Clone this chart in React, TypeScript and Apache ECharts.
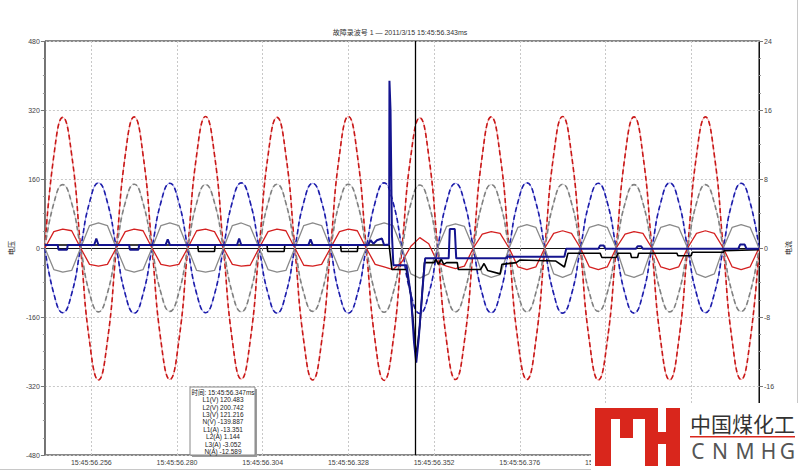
import React, { useEffect, useRef } from "react";
import * as echarts from "echarts";

// sample times (ms after 15:45:56)
const TIME_MS = [
  243, 245.5, 248, 250.5, 253, 255.5, 258, 260.5,
  263, 265.5, 268, 270.5, 273, 275.5, 278, 280.5,
  283, 285.5, 288, 290.5, 293, 295.5, 298, 300.5,
  303, 305.5, 308, 310.5, 313, 315.5, 318, 320.5,
  323, 325.5, 328, 330.5, 333, 335.5, 338, 340.5,
  343, 345.5, 348, 350.5, 353, 355.5, 358, 360.5,
  363, 365.5, 368, 370.5, 373, 375.5, 378, 380.5,
  383, 385.5, 388, 390.5, 393, 395.5, 398, 400.5,
  403, 405.5, 408, 410.5, 413, 415.5, 418, 420.5,
  423, 425.5, 428, 430.5, 433, 435.5, 438, 440.5,
  443,
];

// voltages (left axis, V)
const U_RED = [
  0, 214, 303, 216, 0, -217, -306, -216,
  0, 215, 304, 215, 0, -216, -305, -216,
  0, 216, 305, 216, 0, -215, -304, -215,
  0, 215, 303, 215, 0, -216, -306, -217,
  0, 216, 305, 216, 0, -217, -307, -217,
  0, 214, 302, 214, 0, -216, -305, -216,
  0, 215, 304, 215, 0, -216, -305, -215,
  0, 216, 305, 216, 0, -216, -306, -216,
  0, 215, 304, 215, 0, -217, -306, -216,
  0, 215, 304, 215, 0, -216, -305, -216,
  0,
];
const U_GRAY = [
  0, 104, 147, 104, 0, -105, -148, -105,
  0, 105, 148, 104, 0, -104, -147, -104,
  0, 104, 147, 105, 0, -105, -148, -104,
  0, 104, 148, 104, 0, -104, -147, -105,
  0, 105, 148, 105, 0, -105, -149, -105,
  0, 103, 146, 103, 0, -104, -148, -104,
  0, 104, 147, 104, 0, -105, -148, -104,
  0, 105, 148, 104, 0, -104, -147, -104,
  0, 104, 147, 104, 0, -105, -148, -105,
  0, 104, 147, 104, 0, -104, -147, -104,
  0,
];
const U_BLUE = [
  0, -106, -150, -106, 0, 106, 151, 106,
  0, -107, -151, -106, 0, 106, 150, 106,
  0, -106, -150, -107, 0, 107, 151, 106,
  0, -106, -151, -106, 0, 106, 150, 107,
  0, -107, -151, -107, 0, 106, 151, 106,
  0, -107, -152, -107, 0, 106, 150, 106,
  0, -106, -150, -106, 0, 107, 151, 106,
  0, -106, -151, -107, 0, 106, 150, 106,
  0, -107, -151, -106, 0, 106, 151, 107,
  0, -106, -150, -106, 0, 106, 150, 106,
  0,
];

// currents (right axis, A)
const I_RED = [
  0, 1.9, 2.2, 2.0, 0, -1.9, -2.1, -1.9,
  0, 1.9, 2.2, 2.0, 0, -1.9, -2.1, -1.9,
  0, 2.0, 2.2, 1.9, 0, -1.9, -2.1, -2.0,
  0, 1.9, 2.2, 2.0, 0, -2.0, -2.1, -1.9,
  0, 1.9, 2.2, 2.0, 0, -1.9, -2.2, -2.5,
  -1.6, 0.2, 1.2, 0.5, -1.7, -2.1, -2.4, -2.1,
  0, 1.6, 1.9, 1.7, 0, -2.2, -2.5, -2.2,
  0, 1.7, 2.0, 1.7, 0, -2.2, -2.5, -2.2,
  0, 1.6, 1.9, 1.7, 0, -2.2, -2.5, -2.2,
  0, 1.7, 2.0, 1.7, 0, -2.2, -2.5, -2.2,
  0,
];
const I_GRAY = [
  0, -2.5, -2.8, -2.6, 0, 2.6, 2.9, 2.6,
  0, -2.5, -2.8, -2.5, 0, 2.6, 2.9, 2.6,
  0, -2.6, -2.8, -2.6, 0, 2.6, 2.9, 2.5,
  0, -2.5, -2.8, -2.6, 0, 2.6, 2.9, 2.6,
  0, -2.5, -2.8, -2.6, 0, 2.6, 2.9, 2.6,
  0, -3.0, -3.5, -3.0, 0, 2.5, 2.8, 2.5,
  0, -3.0, -3.4, -3.1, 0, 2.4, 2.7, 2.4,
  0, -3.0, -3.4, -3.0, 0, 2.4, 2.7, 2.4,
  0, -3.1, -3.4, -3.0, 0, 2.4, 2.7, 2.4,
  0, -3.0, -3.4, -3.0, 0, 2.4, 2.7, 2.4,
  0,
];
const I_BLACK: [number, number][] = [
  [243, 0.35], [285.8, 0.35], [286, -0.4], [290.5, -0.4], [290.7, 0.35],
  [305.2, 0.35], [305.4, -0.4], [310, -0.4], [310.2, 0.35],
  [325.8, 0.35], [326, -0.4], [330.5, -0.4], [330.7, 0.35],
  [339.4, 0.35], [340.2, -2.5], [344.3, -2.5], [345.5, -5.5], [347, -12.6],
  [348, -9], [349.3, -1.7], [352, -1.7], [352.5, -1.3], [353.2, -1.9], [354, -1.3],
  [354.7, -1.9], [355.5, -1.7], [358.5, -1.7], [358.8, -2.5], [365, -2.5],
  [366, -1.8], [367, -2.6], [370.5, -3.0], [371, -1.9], [375, -1.7], [376, -1.4],
  [386, -1.5], [388.5, -2.2], [389.5, -0.6], [398.5, -0.6], [399, -1.1], [403, -1.1],
  [403.5, -0.6], [407, -0.6], [407.3, -1.1], [409, -1.1], [409.3, -0.6], [420, -0.6],
  [420.3, -0.9], [424, -0.9], [424.3, -0.5], [433, -0.5], [433.3, -0.3], [443, -0.2],
];
const I_BLUE: [number, number][] = [
  [243, 0.35], [246.6, 0.35], [246.8, -0.2], [249.2, -0.2], [249.4, 0.35],
  [256.8, 0.35], [257.4, 1.1], [258, 0.35],
  [266.6, 0.35], [266.8, -0.2], [269.2, -0.2], [269.4, 0.35],
  [276.8, 0.35], [277.4, 1.0], [278, 0.35],
  [296.8, 0.35], [297.4, 1.1], [298, 0.35],
  [316.8, 0.35], [317.4, 1.0], [318, 0.35],
  [333.5, 0.35], [334.2, 0.9], [335, 0.5], [336, 0.9], [337.4, 1.1], [338, 0.35],
  [339.4, 0.4], [339.5, 19.4], [339.8, 16], [340.2, 1.5], [340.6, -2.0], [344.3, -2.0],
  [345.5, -5.5], [346.4, -11], [347, -13.3], [347.7, -10.5], [348.8, -4.5], [349.5, -1.2],
  [356.1, -1.2], [356.4, 2.2], [357.8, 2.2], [358.2, -1.2], [372, -1.2], [372.5, -1.0],
  [388.5, -1.0], [389, -0.1], [398, -0.1], [398.5, 0.3], [399.5, 0.3], [400, -0.1],
  [408.5, -0.1], [409, 0.2], [410, 0.2], [410.5, -0.1], [437.2, -0.1], [437.7, 0.4],
  [439, 0.4], [439.5, -0.1], [443, -0.1],
];

const X_TICKS = [256, 280, 304, 328, 352, 376, 400, 424];
const X_LABELS = [256, 280, 304, 328, 352, 376, 400];
const CURSOR_MS = 346.75;
const TITLE = "故障录波号 1 — 2011/3/15 15:45:56.343ms";
const TIP_LINES = [
  "时间: 15:45:56.347ms",
  "L1(V) 120.483",
  "L2(V) 200.742",
  "L3(V) 121.216",
  "N(V) -139.887",
  "L1(A) -13.351",
  "L2(A) 1.144",
  "L3(A) -3.052",
  "N(A) -12.589",
];

const FONT = "'Liberation Sans', 'Noto Sans CJK SC', sans-serif";

function dashedWave(values: number[], base: string, dash: string, name: string) {
  const data = TIME_MS.map((t, i) => [t, values[i]]);
  return [
    {
      name: name + "-base",
      type: "line",
      yAxisIndex: 0,
      data,
      smooth: 0.5,
      symbol: "none",
      silent: true,
      lineStyle: { color: base, width: 1 },
    },
    {
      name,
      type: "line",
      yAxisIndex: 0,
      data,
      smooth: 0.5,
      symbol: "none",
      silent: true,
      lineStyle: { color: dash, width: 1.6, type: [5, 3] },
    },
  ];
}

export default function App() {
  const ref = useRef<HTMLDivElement>(null);
  useEffect(() => {
    if (!ref.current) return;
    const chart = echarts.init(ref.current, null, { renderer: "svg" });

    const tipTexts = TIP_LINES.map((s, i) => ({
      type: "text",
      z: 102,
      x: 223,
      y: 389 + i * 7.4,
      style: {
        text: s,
        fill: "#222",
        font: `6.5px ${FONT}`,
        textAlign: "center",
        textVerticalAlign: "top",
      },
    }));

    const red = "#d9261c";
    const logoRects = [
      [595, 408, 16, 58],
      [595, 408, 63, 11],
      [620, 408, 13, 30],
      [645, 408, 13, 58],
      [658, 432, 8, 12],
      [666, 408, 14, 58],
    ].map(([x, y, w, h]) => ({
      type: "rect",
      z: 111,
      shape: { x, y, width: w, height: h },
      style: { fill: red },
    }));
    const letters = ["C", "N", "M", "H", "G"];
    const letterX = [698, 720, 745, 768.5, 787.5];
    const letterTexts = letters.map((c, i) => ({
      type: "text",
      z: 111,
      x: letterX[i],
      y: 451,
      style: {
        text: c,
        fill: "#555",
        font: `21px 'Noto Sans', sans-serif`,
        textAlign: "center",
        textVerticalAlign: "middle",
      },
    }));

    chart.setOption({
      animation: false,
      backgroundColor: "#fff",
      title: {
        text: TITLE,
        left: "center",
        top: 29,
        padding: 0,
        textStyle: { fontSize: 7, fontWeight: "normal", color: "#333", fontFamily: FONT },
      },
      grid: {
        left: 41,
        right: 40,
        top: 41,
        bottom: 16,
        show: true,
        borderColor: "#111",
        borderWidth: 1,
        backgroundColor: "#fff",
      },
      xAxis: {
        type: "value",
        min: 243,
        max: 443,
        axisLine: { show: true, lineStyle: { color: "#111" } },
        axisTick: { show: true, customValues: X_TICKS, length: 3, lineStyle: { color: "#777" } },
        axisLabel: {
          customValues: X_LABELS,
          fontSize: 7,
          color: "#444",
          fontFamily: FONT,
          margin: 4,
          formatter: (v: number) => "15:45:56." + v,
        },
        splitLine: { show: true, lineStyle: { color: "#c8c8c8", type: [2, 2] } },
      },
      yAxis: [
        {
          type: "value",
          position: "left",
          min: -480,
          max: 480,
          interval: 160,
          name: "电压",
          nameLocation: "middle",
          nameGap: 29,
          nameTextStyle: { fontSize: 7, color: "#222", fontFamily: FONT },
          axisLine: { show: true, lineStyle: { color: "#777" } },
          axisTick: { show: true, length: 4, lineStyle: { color: "#777" } },
          minorTick: { show: true, splitNumber: 4, length: 2, lineStyle: { color: "#999" } },
          axisLabel: { fontSize: 7, color: "#444", fontFamily: FONT, margin: 5 },
          splitLine: { show: true, lineStyle: { color: "#c8c8c8", type: [2, 2] } },
        },
        {
          type: "value",
          position: "right",
          min: -24,
          max: 24,
          interval: 8,
          name: "电流",
          nameLocation: "middle",
          nameGap: 26,
          nameTextStyle: { fontSize: 7, color: "#222", fontFamily: FONT },
          axisLine: { show: true, lineStyle: { color: "#111" } },
          axisTick: { show: true, length: 4, lineStyle: { color: "#777" } },
          minorTick: { show: true, splitNumber: 4, length: 2, lineStyle: { color: "#999" } },
          axisLabel: {
            fontSize: 7,
            color: "#444",
            fontFamily: FONT,
            margin: 5,
            formatter: (v: number) => (v === -24 ? "" : String(v)),
          },
          splitLine: { show: false },
        },
      ],
      series: [
        ...dashedWave(U_RED, "#f2a0a0", "#c81818", "L1(V)"),
        ...dashedWave(U_GRAY, "#cfcfcf", "#808080", "L2(V)"),
        ...dashedWave(U_BLUE, "#9a9af0", "#1c1ca8", "L3(V)"),
        {
          name: "L2(A)",
          type: "line",
          yAxisIndex: 1,
          data: TIME_MS.map((t, i) => [t, I_RED[i]]),
          symbol: "none",
          silent: true,
          lineStyle: { color: "#d42020", width: 1.3 },
        },
        {
          name: "L3(A)",
          type: "line",
          yAxisIndex: 1,
          data: TIME_MS.map((t, i) => [t, I_GRAY[i]]),
          symbol: "none",
          silent: true,
          lineStyle: { color: "#8a8a8a", width: 1.3 },
        },
        {
          name: "N(A)",
          type: "line",
          yAxisIndex: 1,
          data: I_BLACK,
          symbol: "none",
          silent: true,
          lineStyle: { color: "#000", width: 1.6 },
        },
        {
          name: "L1(A)",
          type: "line",
          yAxisIndex: 1,
          data: I_BLUE,
          symbol: "none",
          silent: true,
          lineStyle: { color: "#14148f", width: 2 },
          markLine: {
            silent: true,
            symbol: ["none", "none"],
            label: { show: false },
            lineStyle: { color: "#000", width: 1.3, type: "solid" },
            data: [{ xAxis: CURSOR_MS }],
          },
        },
      ],
      graphic: [
        { type: "line", z: 99, shape: { x1: 797.5, y1: 0, x2: 797.5, y2: 471 }, style: { stroke: "#c8c8c8", lineWidth: 1 } },
        { type: "line", z: 99, shape: { x1: 0, y1: 469.5, x2: 800, y2: 469.5 }, style: { stroke: "#c8c8c8", lineWidth: 1 } },
        { type: "rect", z: 100, shape: { x: 192, y: 389, width: 65, height: 68 }, style: { fill: "#9a9a9a" } },
        { type: "rect", z: 101, shape: { x: 190, y: 387, width: 65, height: 68 }, style: { fill: "#fff", stroke: "#888", lineWidth: 1 } },
        ...tipTexts,
        { type: "rect", z: 110, shape: { x: 591, y: 403, width: 209, height: 68 }, style: { fill: "#fff" } },
        ...logoRects,
        {
          type: "text",
          z: 111,
          x: 690,
          y: 423,
          style: {
            text: "中国煤化工",
            fill: "#333",
            font: `21px 'Noto Sans CJK SC', sans-serif`,
            textAlign: "left",
            textVerticalAlign: "middle",
          },
        },
        { type: "rect", z: 111, shape: { x: 690, y: 436, width: 105, height: 1.6 }, style: { fill: red } },
        ...letterTexts,
      ],
    });
    return () => chart.dispose();
  }, []);
  return (
    <div
      ref={ref}
      style={{ position: "fixed", left: 0, top: 0, width: 800, height: 471 }}
    />
  );
}
